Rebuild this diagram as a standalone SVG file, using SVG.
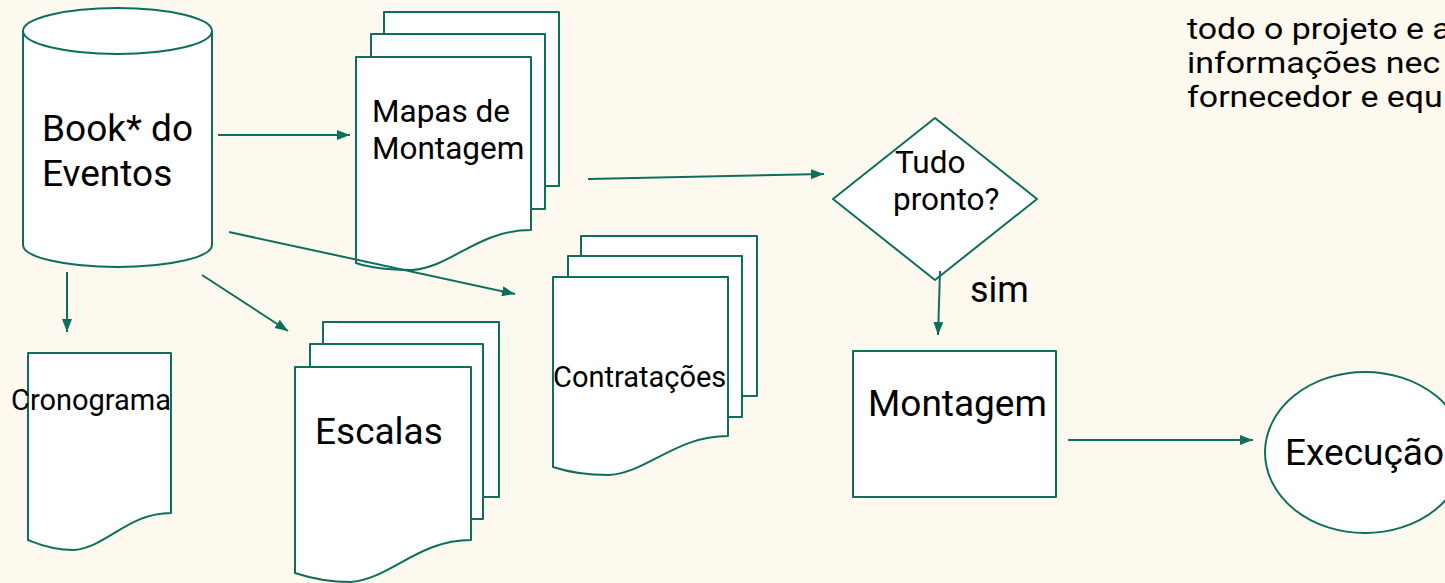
<svg xmlns="http://www.w3.org/2000/svg" width="1445" height="583" viewBox="0 0 1445 583">
<style>
.s{fill:#ffffff;stroke:#0d6e5e;stroke-width:2;stroke-linejoin:round}
.c{fill:none;stroke:#0d6e5e;stroke-width:2}
.t{font-family:Roboto,"Liberation Sans",sans-serif;fill:#000000}
</style>
<defs>
<marker id="ah" markerUnits="userSpaceOnUse" markerWidth="14" markerHeight="12" refX="13" refY="5" orient="auto">
<path d="M0,0 L13,5 L0,10 Z" fill="#0d6e5e"/>
</marker>
</defs>
<rect width="1445" height="583" fill="#fef9ee"/>

<g id="book">
<path class="s" d="M23,31 L23,245 A94.5,22 0 0 0 212,245 L212,31 A94.5,23 0 0 0 23,31 Z"/>
<path class="s" d="M23,31 A94.5,23 0 0 0 212,31"/>
<text class="t" font-size="37" x="42" y="141">Book* do</text>
<text class="t" font-size="37" x="42" y="186">Eventos</text>
</g>

<g id="mapas">
<rect class="s" x="384" y="12" width="175" height="174"/>
<rect class="s" x="371" y="34" width="174" height="175"/>
<path class="s" d="M356,57 H531 V230 C478,230 452,267 412,270 C382,270 365,266 356,263 Z"/>
<text class="t" font-size="31.5" x="372" y="122">Mapas de</text>
<text class="t" font-size="31.5" x="372" y="159">Montagem</text>
</g>

<g id="contratacoes">
<rect class="s" x="581" y="236" width="176" height="160"/>
<rect class="s" x="568" y="256" width="174" height="161"/>
<path class="s" d="M553,277 H728 V436 C675,436 649,472 609,475 C579,475 562,470 553,467 Z"/>
<text class="t" font-size="29" x="553" y="387">Contratações</text>
</g>

<g id="cronograma">
<path class="s" d="M28,353 H171 V513 C128,513 107,547 74,550 C50,550 36,543 28,540 Z"/>
<text class="t" font-size="29" x="11" y="410">Cronograma</text>
</g>

<g id="escalas">
<rect class="s" x="323" y="322" width="176" height="175"/>
<rect class="s" x="310" y="344" width="173" height="175"/>
<path class="s" d="M295,367 H471 V540 C418,540 392,578 351,582 C321,582 304,576 295,573 Z"/>
<text class="t" font-size="37" x="315" y="444">Escalas</text>
</g>

<g id="decisao">
<path class="s" d="M935,118 L1037,199 L935,280 L833,199 Z"/>
<text class="t" font-size="31.5" x="895" y="173">Tudo</text>
<text class="t" font-size="31.5" x="893" y="210">pronto?</text>
</g>

<g id="montagem">
<rect class="s" x="853" y="351" width="203" height="146"/>
<text class="t" font-size="37" x="868" y="416">Montagem</text>
</g>

<g id="execucao">
<ellipse class="s" cx="1365" cy="452.5" rx="100" ry="80.5"/>
<text class="t" font-size="37" x="1285" y="465">Execução</text>
</g>

<g id="nota" transform="translate(1187,0) scale(1.17,1)">
<text class="t" font-size="29" x="0" y="39">todo o projeto e a</text>
<text class="t" font-size="29" x="0" y="73">informações nec</text>
<text class="t" font-size="29" x="0" y="107">fornecedor e equ</text>
</g>

<g id="conectores">
<line class="c" x1="218" y1="135" x2="350" y2="135" marker-end="url(#ah)"/>
<line class="c" x1="67" y1="272" x2="67" y2="332" marker-end="url(#ah)"/>
<line class="c" x1="202" y1="275" x2="288" y2="331" marker-end="url(#ah)"/>
<line class="c" x1="229" y1="232" x2="515" y2="294" marker-end="url(#ah)"/>
<line class="c" x1="588" y1="179" x2="824" y2="174" marker-end="url(#ah)"/>
<line class="c" x1="940" y1="271" x2="938" y2="335" marker-end="url(#ah)"/>
<text class="t" font-size="36" x="970" y="302">sim</text>
<line class="c" x1="1068" y1="440" x2="1253" y2="440" marker-end="url(#ah)"/>
</g>
</svg>
